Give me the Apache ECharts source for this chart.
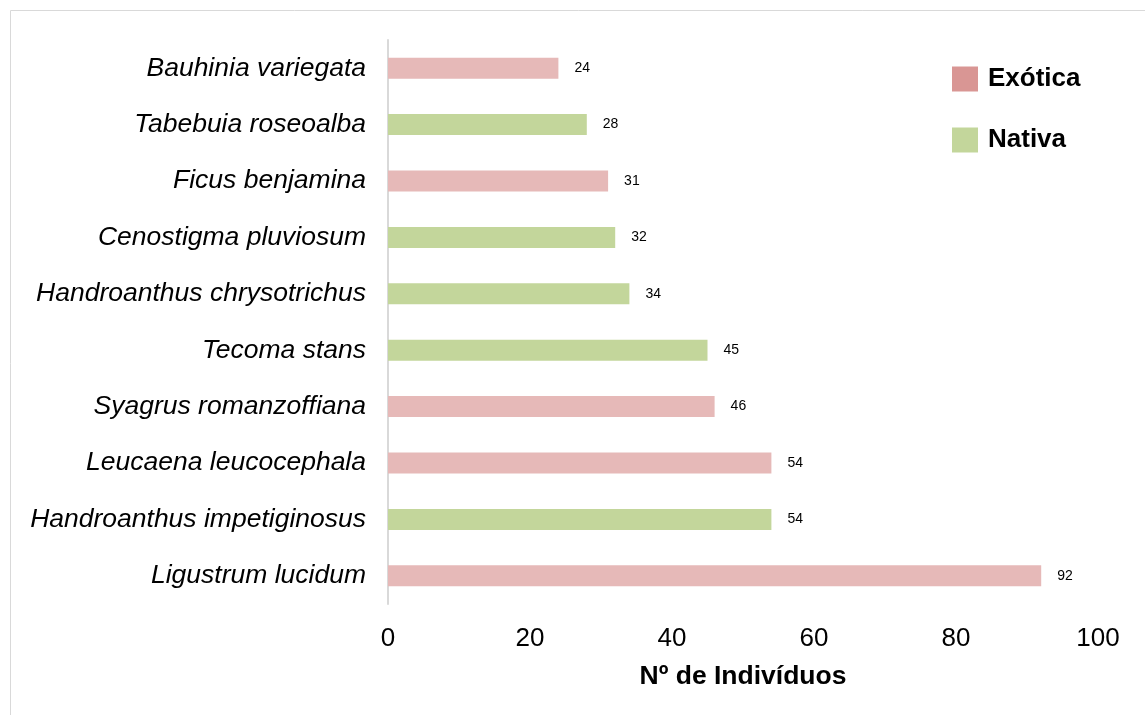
<!DOCTYPE html>
<html>
<head>
<meta charset="utf-8">
<script src="https://cdn.jsdelivr.net/npm/echarts@6/dist/echarts.min.js"></script>
<style>
  html, body { margin: 0; padding: 0; background: #fff; }
  #chart { width: 1145px; height: 715px; }
</style>
</head>
<body>
<div id="chart"></div>
<script>
// top to bottom as drawn
const species = [
  "Bauhinia variegata",
  "Tabebuia roseoalba",
  "Ficus benjamina",
  "Cenostigma pluviosum",
  "Handroanthus chrysotrichus",
  "Tecoma stans",
  "Syagrus romanzoffiana",
  "Leucaena leucocephala",
  "Handroanthus impetiginosus",
  "Ligustrum lucidum",
];
const counts = [24, 28, 31, 32, 34, 45, 46, 54, 54, 92];
const origin = ["Exótica", "Nativa", "Exótica", "Nativa", "Nativa", "Nativa", "Exótica", "Exótica", "Nativa", "Exótica"];
const groups = ["Exótica", "Nativa"];

const barColors = { "Exótica": "#E6B9B8", "Nativa": "#C3D69B" };
const legendColors = { "Exótica": "#D99694", "Nativa": "#C3D69B" };

const chart = echarts.init(document.getElementById("chart"));

const series = groups.map((g) => ({
  name: g,
  type: "bar",
  barWidth: 21,
  barGap: "-100%",
  data: counts.map((v, i) => (origin[i] === g ? v : null)),
  itemStyle: { color: barColors[g] },
  label: {
    show: true,
    position: "right",
    distance: 16,
    color: "#000",
    fontSize: 14,
    fontFamily: "Liberation Sans",
  },
  emphasis: { disabled: true },
}));

chart.setOption({
  animation: false,
  graphic: [
    {
      type: "rect",
      shape: { x: 10.5, y: 10.5, width: 1200, height: 800 },
      style: { fill: "none", stroke: "#d9d9d9", lineWidth: 1 },
    },
  ],
  legend: {
    orient: "vertical",
    left: 947,
    top: 61,
    itemWidth: 26,
    itemHeight: 25,
    itemGap: 35,
    icon: "rect",
    data: groups.map((g) => ({ name: g, itemStyle: { color: legendColors[g] } })),
    textStyle: {
      fontSize: 26,
      fontWeight: "bold",
      color: "#000",
      fontFamily: "Liberation Sans",
      padding: [0, 0, 0, 5],
    },
  },
  grid: { left: 388, right: 47, top: 40, bottom: 111, containLabel: false },
  xAxis: {
    type: "value",
    min: 0,
    max: 100,
    interval: 20,
    name: "Nº de Indivíduos",
    nameLocation: "middle",
    nameGap: 59,
    nameTextStyle: {
      fontSize: 26.5,
      fontWeight: "bold",
      color: "#000",
      fontFamily: "Liberation Sans",
    },
    axisLine: { show: false },
    axisTick: { show: false },
    splitLine: { show: false },
    axisLabel: {
      fontSize: 26,
      color: "#000",
      margin: 22,
      fontFamily: "Liberation Sans",
    },
  },
  yAxis: {
    type: "category",
    inverse: true,
    data: species,
    axisLine: { show: true, lineStyle: { color: "#d9d9d9", width: 2 } },
    axisTick: { show: false },
    axisLabel: {
      fontSize: 26.5,
      fontStyle: "italic",
      color: "#000",
      margin: 22,
      fontFamily: "Liberation Sans",
    },
  },
  series: series,
});
</script>
</body>
</html>
